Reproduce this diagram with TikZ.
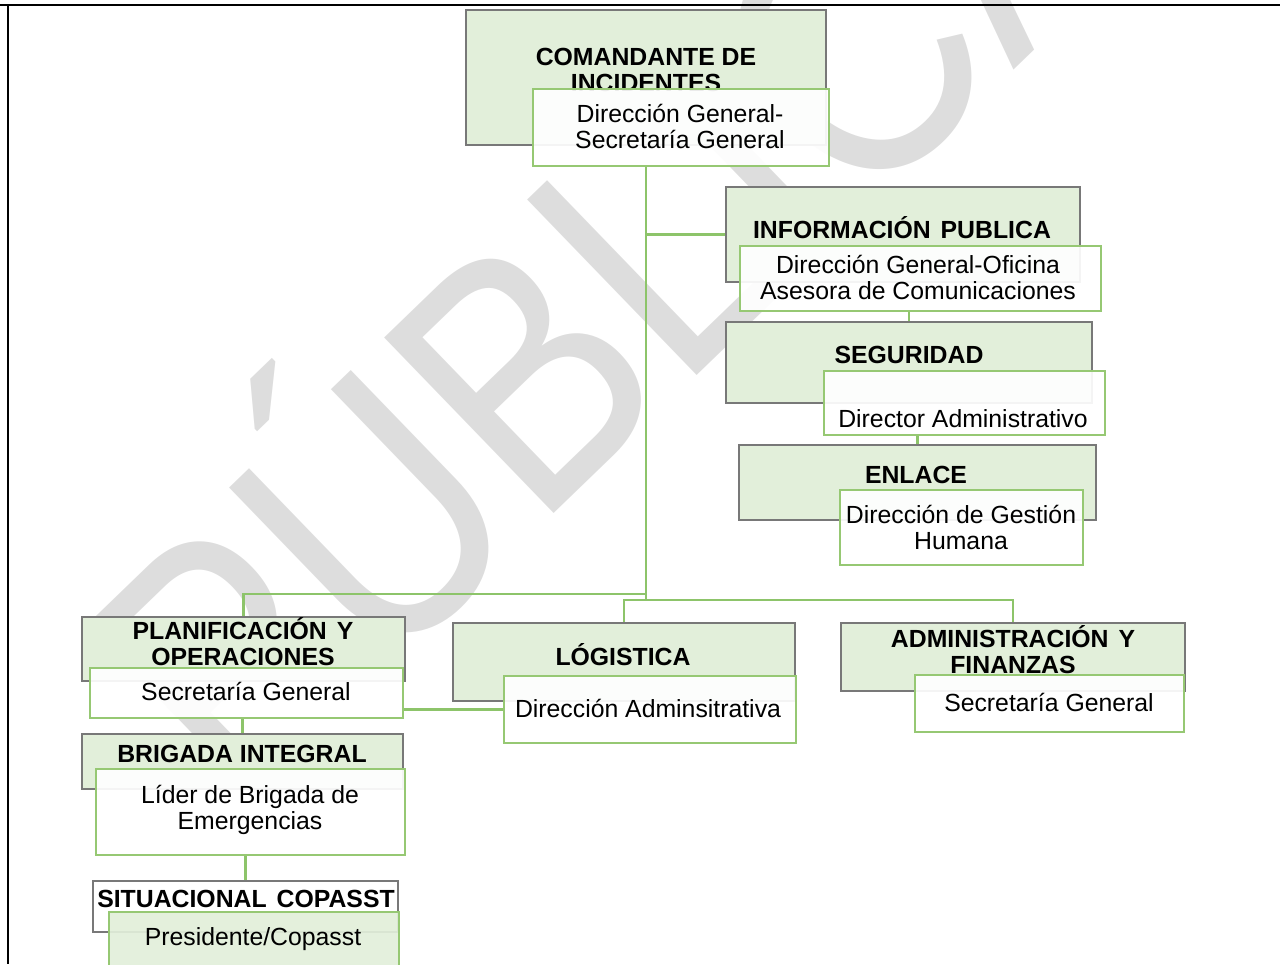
\documentclass[tikz,border=0pt]{standalone}
\usepackage{fontspec}
\setmainfont{Liberation Sans}
\usetikzlibrary{fit}
\definecolor{headgreen}{RGB}{226,239,218}
\definecolor{linegreen}{RGB}{141,196,106}
\definecolor{subgreen}{RGB}{150,200,115}
\definecolor{boxgray}{RGB}{120,120,120}
\definecolor{marcagray}{RGB}{221,221,221}
\tikzset{
  headbox/.style={draw=boxgray, line width=0.8pt, fill=headgreen, inner sep=0pt},
  subbox/.style={draw=subgreen, line width=0.8pt, fill=white, fill opacity=0.92, inner sep=0pt},
  headtxt/.style={font=\bfseries\fontsize{18.6}{19.5}\selectfont, align=center, inner sep=0pt},
  subtxt/.style={font=\fontsize{18.6}{19.5}\selectfont, align=center, inner sep=0pt},
  link/.style={draw=linegreen, line width=1.6pt},
}
\begin{document}
\begin{tikzpicture}[x=0.75pt,y=-0.75pt]
\useasboundingbox (0,0) rectangle (1280,964);
% marca de agua
\begin{scope}
\clip (0,0) rectangle (1280,964);
\node[anchor=base west, inner sep=0pt, rotate=44, text=marcagray,
  font=\fontsize{266}{266}\selectfont] (marca) at (239,818) {\scalebox{0.84}[1]{PÚBLICA}};
\end{scope}
% marco
\draw[line width=1.5pt] (0,5) -- (1280,5);
\draw[line width=1.5pt] (8,5) -- (8,964);

% comandante
\node[headbox, fit={(466,10) (826,145)}] (com) {};
\node[headtxt] (comt) at (646,70) {COMANDANTE DE\\INCIDENTES};
\node[subbox, fit={(533,89) (829,166)}] (comsub) {};
\node[subtxt] (comsubt) at (680,126) {Dirección General-\\Secretaría General};

% informacion publica
\node[headbox, fit={(726,187) (1080,282)}] (info) {};
\node[headtxt] (infot) at (902,228) {INFORMACIÓN\hspace{0.4em}PUBLICA};
\node[subbox, fit={(740,246) (1101,311)}] (infosub) {};
\node[subtxt] (infosubt) at (918,277) {Dirección General-Oficina\\Asesora de Comunicaciones};

% seguridad
\node[headbox, fit={(726,322) (1092,403)}] (segur) {};
\node[headtxt] (segurt) at (909,355) {SEGURIDAD};
\node[subbox, fit={(824,371) (1105,435)}] (segursub) {};
\node[subtxt] (segursubt) at (963,419) {Director Administrativo};

% enlace
\node[headbox, fit={(739,445) (1096,520)}] (enl) {};
\node[headtxt] (enlt) at (916,475) {ENLACE};
\node[subbox, fit={(840,490) (1083,565)}] (enlsub) {};
\node[subtxt] (enlsubt) at (961,527) {Dirección de Gestión\\Humana};

% planificacion
\node[headbox, fit={(82,617) (405,681)}] (plan) {};
\node[headtxt] (plant) at (243,642) {PLANIFICACIÓN\hspace{0.4em}Y\\OPERACIONES};
\node[subbox, fit={(90,668) (403,718)}] (plansub) {};
\node[subtxt] (plansubt) at (246,691) {Secretaría General};

% logistica
\node[headbox, fit={(453,623) (795,701)}] (log) {};
\node[headtxt] (logt) at (623,655) {LÓGISTICA};
\node[subbox, fit={(504,676) (796,743)}] (logsub) {};
\node[subtxt] (logsubt) at (648,708) {Dirección Adminsitrativa};

% administracion
\node[headbox, fit={(841,623) (1185,691)}] (adm) {};
\node[headtxt] (admt) at (1013,650) {ADMINISTRACIÓN\hspace{0.4em}Y\\FINANZAS};
\node[subbox, fit={(915,675) (1184,732)}] (admsub) {};
\node[subtxt] (admsubt) at (1049,702) {Secretaría General};

% brigada
\node[headbox, fit={(82,734) (403,789)}] (brig) {};
\node[headtxt] (brigt) at (242,754) {BRIGADA INTEGRAL};
\node[subbox, fit={(96,769) (405,855)}] (brigsub) {};
\node[subtxt] (brigsubt) at (250,810) {Líder de Brigada de\\Emergencias};

% situacional
\node[headbox, fill=white, fit={(93,881) (398,932)}] (situ) {};
\node[headtxt] (situt) at (246,899) {SITUACIONAL\hspace{0.4em}COPASST};
\node[subbox, fill=headgreen, fit={(109,912) (399,975)}] (situsub) {};
\node[subtxt] (situsubt) at (253,939) {Presidente/Copasst};

% conectores
\coordinate (bus) at (646,600);
\coordinate (busl) at (646,594);
\draw[link] (comsub.south -| bus) -- (bus);
\draw[link] (info.west) -- (info.west -| bus);
\draw[link] (busl) -| (plan.north);
\draw[link] (log.north) |- (bus) -| (adm.north);
\draw[link] (logsub.west) -- (logsub.west -| plansub.east);
\draw[link] (brig.north) -- (brig.north |- plansub.south);
\draw[link] (situ.north) -- (situ.north |- brigsub.south);
\draw[link] (segur.north) -- (segur.north |- infosub.south);
\draw[link] (enl.north) -- (enl.north |- segursub.south);
\end{tikzpicture}
\end{document}
